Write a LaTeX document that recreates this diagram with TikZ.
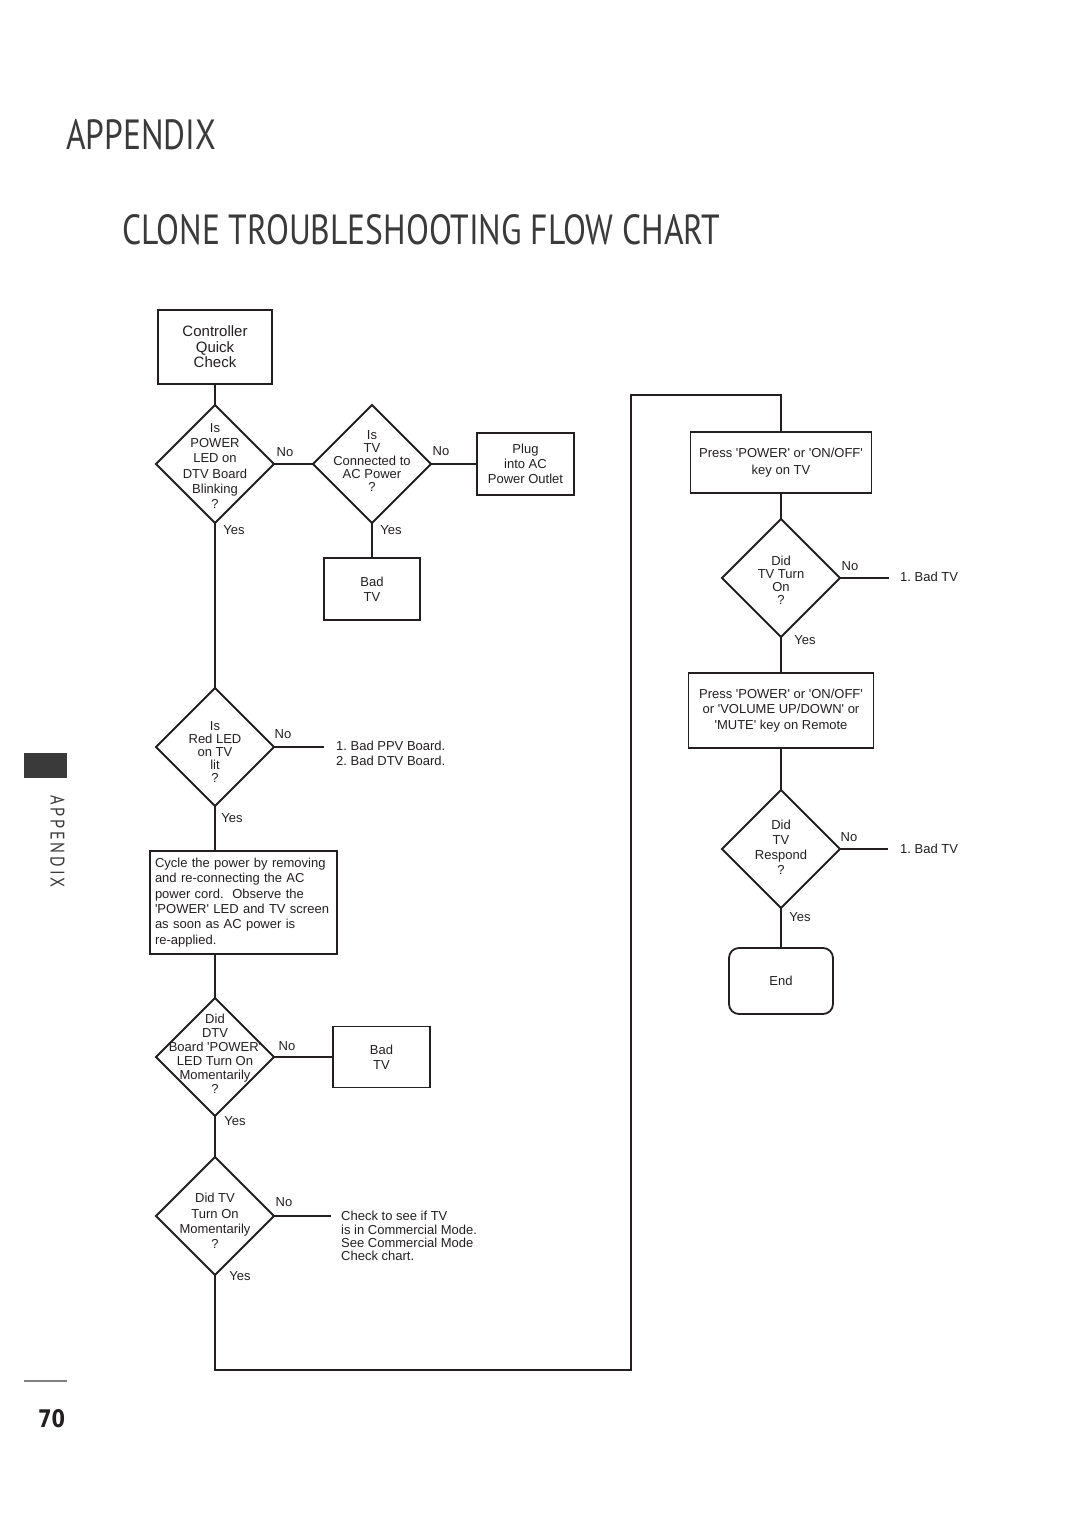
\documentclass[tikz,border=0pt]{standalone}
\usepackage{fontspec}
\setmainfont{Liberation Sans}[Ligatures=TeXOff]
\newfontfamily\headfont{PT Sans}
\newfontfamily\sidefont{PT Sans}[LetterSpace=18]
\newfontfamily\numfont{DejaVu Sans}
\usetikzlibrary{shapes.geometric}
\definecolor{ink}{HTML}{231F20}
\definecolor{head}{HTML}{3A3A3A}
\frenchspacing
\begin{document}
\begin{tikzpicture}[x=1pt,y=-1pt,
  box/.style={draw=ink, line width=1.8pt, inner sep=0pt, outer sep=0pt, align=center, text=ink, font=\fontsize{13}{15.3}\selectfont},
  dia/.style={diamond, draw=ink, line width=1.8pt, inner sep=0pt, outer sep=0pt, minimum width=118pt, minimum height=118pt, aspect=1},
  dtxt/.style={align=center, inner sep=0pt, text=ink},
  lab/.style={inner sep=0pt, text=ink, font=\fontsize{13}{15}\selectfont},
  conn/.style={draw=ink, line width=1.1pt},
]
\useasboundingbox[fill=white] (0,0) rectangle (1080,1528);

% headings
\node[anchor=south west, inner sep=0pt, text=head] (ttl) at (66,150) {\resizebox{150pt}{30pt}{\headfont APPENDIX}};
\node[anchor=south west, inner sep=0pt, text=head] (sub) at (122,245) {\resizebox{598pt}{30pt}{\headfont CLONE TROUBLESHOOTING FLOW CHART}};

% sidebar
\fill[head] (24,753) rectangle (67,778);
\node[rotate=-90, inner sep=0pt, text=head] (side) at (57.5,841.5) {\resizebox{93pt}{14pt}{\sidefont APPENDIX}};
\draw[gray, line width=1.4pt] (24,1381) -- (67,1381);
\node[anchor=south west, inner sep=0pt, text=ink] (pg) at (38,1428) {\resizebox{27pt}{18pt}{\numfont\bfseries 70}};

% left column
\node[box, minimum width=114pt, minimum height=74pt, font=\fontsize{15}{15.5}\selectfont] (cqc) at (215,347) {\rule{0pt}{4pt}Controller\\Quick\\Check};

\node[dia] (d1) at (215,464) {};
\node[dtxt, font=\fontsize{13}{15.3}\selectfont] (d1t) at (215,466) {Is\\POWER\\LED on\\DTV Board\\Blinking\\?};

\node[dia] (d2) at (372,464) {};
\node[dtxt, font=\fontsize{13}{13}\selectfont] (d2t) at (372,461) {Is\\TV\\Connected to\\AC Power\\?};

\node[box, minimum width=97pt, minimum height=62pt] (plug) at (525.5,464) {Plug\\into AC\\Power Outlet};
\node[box, minimum width=96pt, minimum height=62pt] (bad1) at (372,589) {Bad\\TV};

\node[dia] (d3) at (215,747) {};
\node[dtxt, font=\fontsize{13}{13}\selectfont] (d3t) at (215,752) {Is\\Red LED\\on TV\\lit\\?};
\coordinate (d3end) at (324,747);
\node[lab, align=left, anchor=west] (ppv) at (336,753.5) {1. Bad PPV Board.\\2. Bad DTV Board.};

\node[box, text width=177pt, align=left, inner sep=5pt, minimum height=103pt] (cyc) at (243.5,902.5) {Cycle the power by removing\\and re-connecting the AC\\power cord.\ \ Observe the\\'POWER' LED and TV screen\\as soon as AC power is\\re-applied.};

\node[dia] (d4) at (215,1057) {};
\node[dtxt, font=\fontsize{13}{14}\selectfont] (d4t) at (215,1054) {Did\\DTV\\Board 'POWER'\\LED Turn On\\Momentarily\\?};
\node[box, minimum width=97pt, minimum height=61pt] (bad2) at (381.5,1057) {Bad\\TV};

\node[dia] (d5) at (215,1216) {};
\node[dtxt, font=\fontsize{13}{15.3}\selectfont] (d5t) at (215,1221) {Did TV\\Turn On\\Momentarily\\?};
\coordinate (d5end) at (331,1216);
\node[lab, align=left, anchor=west, font=\fontsize{13}{13.3}\selectfont] (cm) at (341,1236) {Check to see if TV\\is in Commercial Mode.\\See Commercial Mode\\Check chart.};

% loop coordinates
\coordinate (lp1) at (215,1370);
\coordinate (lp2) at (631,1370);
\coordinate (lp3) at (631,395);
\coordinate (lp4) at (781,395);

% right column
\node[box, minimum width=181pt, minimum height=61pt, font=\fontsize{13}{17}\selectfont] (p1) at (781,462.5) {Press 'POWER' or 'ON/OFF'\\key on TV};
\node[dia] (d6) at (781,578) {};
\node[dtxt, font=\fontsize{13}{13}\selectfont] (d6t) at (781,580) {Did\\TV Turn\\On\\?};
\coordinate (d6end) at (889,578);
\node[lab, anchor=west] (bt1) at (900,577) {1. Bad TV};

\node[box, minimum width=185pt, minimum height=75pt, font=\fontsize{13}{15.5}\selectfont] (p2) at (781,710.5) {Press 'POWER' or 'ON/OFF'\\or 'VOLUME UP/DOWN' or\\'MUTE' key on Remote};
\node[dia] (d7) at (781,849) {};
\node[dtxt, font=\fontsize{13}{15}\selectfont] (d7t) at (781,847) {Did\\TV\\Respond\\?};
\coordinate (d7end) at (888,849);
\node[lab, anchor=west] (bt2) at (900,849) {1. Bad TV};

\node[box, rounded corners=10pt, minimum width=104pt, minimum height=66pt] (endn) at (781,981) {End};

% connectors
\draw[conn] (cqc.south) -- (d1.north);
\draw[conn] (d1.east) -- (d2.west);
\draw[conn] (d2.east) -- (plug.west);
\draw[conn] (d2.south) -- (bad1.north);
\draw[conn] (d1.south) -- (d3.north);
\draw[conn] (d3.east) -- (d3end);
\draw[conn] (d3.south) -- (d3.south |- cyc.north);
\draw[conn] (d4.north |- cyc.south) -- (d4.north);
\draw[conn] (d4.east) -- (d4.east -| bad2.west);
\draw[conn] (d4.south) -- (d5.north);
\draw[conn] (d5.east) -- (d5end);
\draw[conn] (d5.south) -- (lp1) -- (lp2) -- (lp3) -- (lp4) -- (p1.north);
\draw[conn] (p1.south) -- (d6.north);
\draw[conn] (d6.east) -- (d6end);
\draw[conn] (d6.south) -- (p2.north);
\draw[conn] (p2.south) -- (d7.north);
\draw[conn] (d7.east) -- (d7end);
\draw[conn] (d7.south) -- (endn.north);

% Yes / No labels
\node[lab] (n1) at (285,452) {No};
\node[lab] (n2) at (441,451) {No};
\node[lab] (n3) at (283,734) {No};
\node[lab] (n4) at (287,1046) {No};
\node[lab] (n5) at (284,1202) {No};
\node[lab] (n6) at (850,566) {No};
\node[lab] (n7) at (849,837) {No};
\node[lab] (y1) at (234,530) {Yes};
\node[lab] (y2) at (391,530) {Yes};
\node[lab] (y3) at (232,818) {Yes};
\node[lab] (y4) at (235,1121) {Yes};
\node[lab] (y5) at (240,1276) {Yes};
\node[lab] (y6) at (805,640) {Yes};
\node[lab] (y7) at (800,917) {Yes};
\end{tikzpicture}
\end{document}
